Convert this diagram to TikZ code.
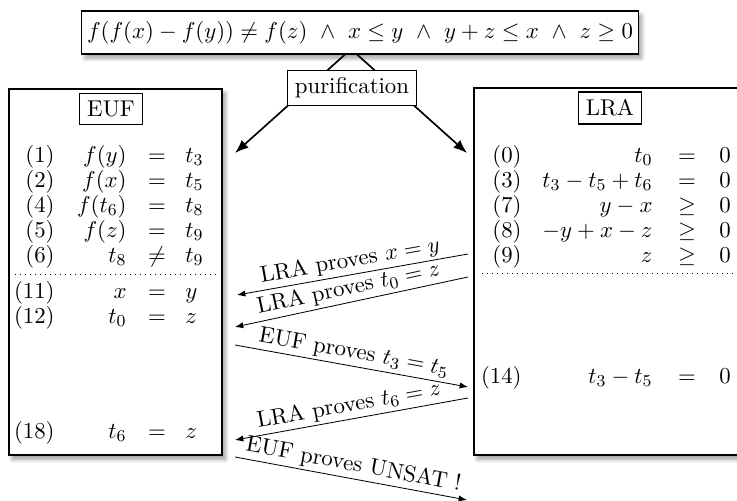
\documentclass[tikz,border=0pt,11pt]{standalone}
\usepackage{amsmath}
\usetikzlibrary{arrows.meta,shadows.blur}

\tikzset{
  panel/.style={draw, semithick, fill=white,
    blur shadow={shadow xshift=1.6pt, shadow yshift=-2pt, shadow blur radius=2pt, shadow blur steps=8}},
  tag/.style={draw, semithick, fill=white},
  lit/.style={inner sep=0pt},
  say/.style={midway, above=0.6pt, sloped, inner sep=0.8pt},
  feed/.style={->, thick, >={Latex[length=6.5pt,width=5pt]}},
  msg/.style={->, >={Latex[length=4pt,width=3pt]}},
}

\begin{document}
\begin{tikzpicture}[x=0.48pt, y=-0.48pt]
\useasboundingbox (0,0) rectangle (737,501);

% Input formula
\node[panel, inner xsep=2.5pt, inner ysep=4.8pt] (formula) at (360,32.5)
  {$f(f(x)-f(y))\neq f(z)\ \wedge\ x\leq y\ \wedge\ y+z\leq x\ \wedge\ z\geq 0$};

% Theory panels
\node[panel, minimum width=102.2pt, minimum height=175.7pt] (euf) at (115.5,272) {};
\node[panel, minimum width=137.3pt, minimum height=176.2pt] (lra) at (617,271.5) {};
\node[tag] (euftag) at (111,109) {EUF};
\node[tag] (lratag) at (610,108) {LRA};

% Purification splits the formula
\coordinate (pl) at (235,153);
\coordinate (pr) at (467,153);
\draw[feed] ([xshift=-7.2pt]formula.south) -- (pl);
\draw[feed] ([xshift=-1.4pt]formula.south) -- (pr);
\node[tag] (purify) at (352,88) {purification};

% EUF literals
\foreach \n/\y/\lhs/\rel/\rhs in {1/162/f(y)/=/t_3, 2/187/f(x)/=/t_5, 4/212/f(t_6)/=/t_8,
    5/237/f(z)/=/t_9, 6/262/t_8/\neq/t_9, 11/298/x/=/y, 12/323/t_0/=/z, 18/438/t_6/=/z} {
  \node[lit, anchor=base east] (eufn\n) at (55,\y) {(\n)};
  \node[lit, anchor=base east] (eufl\n) at (127,\y) {$\lhs$};
  \node[lit, anchor=base] (eufr\n) at (157,\y) {$\rel$};
  \node[lit, anchor=base west] (eufs\n) at (185,\y) {$\rhs$};
}

% LRA literals
\foreach \n/\y/\lhs/\rel in {0/162/t_0/=, 3/187/t_3-t_5+t_6/=, 7/212/y-x/\geq,
    8/237/-y+x-z/\geq, 9/262/z/\geq, 14/383/t_3-t_5/=} {
  \node[lit, anchor=base east] (lran\n) at (522,\y) {(\n)};
  \node[lit, anchor=base east] (lral\n) at (653,\y) {$\lhs$};
  \node[lit, anchor=base] (lrar\n) at (687,\y) {$\rel$};
  \node[lit, anchor=base west] (lras\n) at (719,\y) {$0$};
}

% Input / derived separators
\draw[dotted] (15,274) -- (218,274);
\draw[dotted] (482,273) -- (745,273);

% Exchanged equalities
\coordinate (m1s) at (468,254); \coordinate (m1t) at (237,295);
\coordinate (m2s) at (468,277); \coordinate (m2t) at (235,327);
\coordinate (m3s) at (235,345); \coordinate (m3t) at (468,387);
\coordinate (m4s) at (468,398); \coordinate (m4t) at (235,440);
\coordinate (m5s) at (235,457); \coordinate (m5t) at (467,500);
\draw[msg] (m1s) -- node[say] {LRA proves $x=y$} (m1t);
\draw[msg] (m2s) -- node[say] {LRA proves $t_0=z$} (m2t);
\draw[msg] (m3s) -- node[say] {EUF proves $t_3=t_5$} (m3t);
\draw[msg] (m4s) -- node[say] {LRA proves $t_6=z$} (m4t);
\draw[msg] (m5s) -- node[say] {EUF proves UNSAT !} (m5t);

\end{tikzpicture}
\end{document}
